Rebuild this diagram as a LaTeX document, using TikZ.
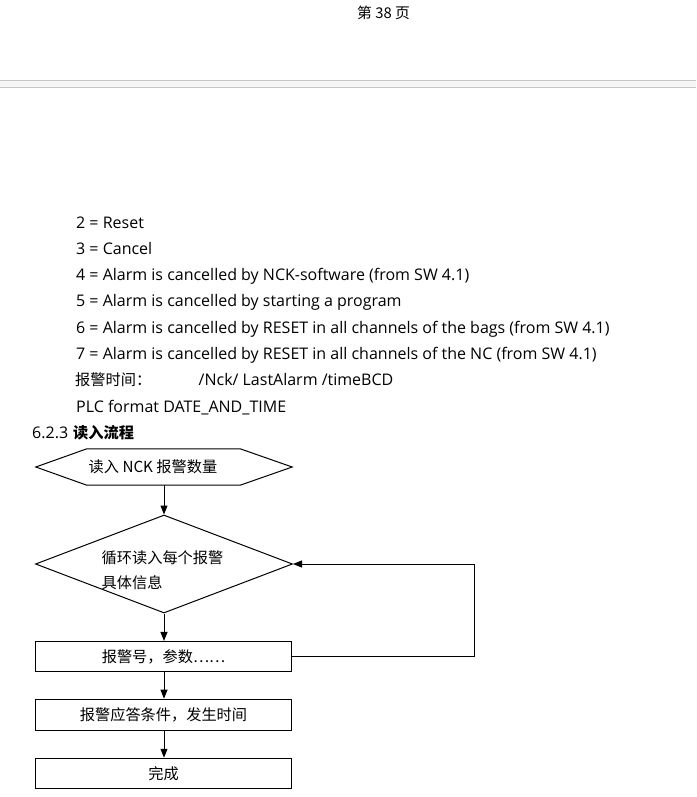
\documentclass[tikz,border=0pt]{standalone}
\usepackage{fontspec}
\setmainfont{Open Sans}
\newfontfamily\cjk{Noto Sans CJK SC}
\usetikzlibrary{shapes.geometric,arrows.meta}
\begin{document}
\begin{tikzpicture}[x=1pt,y=-1pt,
  txt/.style={anchor=base west,inner sep=0pt,font=\fontsize{16}{19}\selectfont},
  cjktxt/.style={txt,font=\cjk\fontsize{15.2}{18}\selectfont},
  flowbox/.style={draw,line width=1.1pt,minimum width=256pt,minimum height=30pt,inner sep=0pt,font=\cjk\fontsize{15.2}{18}\selectfont},
  flowarr/.style={-{Triangle[length=9pt,width=7pt]},line width=1pt}]
\useasboundingbox (0,0) rectangle (696,797);
\node[font=\cjk\fontsize{14.8}{17}\selectfont] (pagenum) at (383.5,13) {第 38 页};
\fill[gray!7] (0,80) rectangle (696,87);
\draw[gray!45] (0,80) -- (696,80);
\draw[gray!45] (0,87) -- (696,87);

\node[txt] (codea) at (76,228.3) {2 = Reset};
\node[txt] (codeb) at (76,254.5) {3 = Cancel};
\node[txt] (codec) at (76,280.7) {4 = Alarm is cancelled by NCK-software (from SW 4.1)};
\node[txt] (coded) at (76,306.9) {5 = Alarm is cancelled by starting a program};
\node[txt] (codee) at (76,333.1) {6 = Alarm is cancelled by RESET in all channels of the bags (from SW 4.1)};
\node[txt] (codef) at (76,359.3) {7 = Alarm is cancelled by RESET in all channels of the NC (from SW 4.1)};
\node[cjktxt] (timelbl) at (75,385.8) {报警时间：};
\node[txt] (timepath) at (198.5,385.8) {/Nck/ LastAlarm /timeBCD};
\node[txt] (plcfmt) at (76,412) {PLC format DATE\_AND\_TIME};
\node[txt] (secnum) at (32,438.5) {6.2.3};
\node[cjktxt,font=\cjk\bfseries\fontsize{15.2}{18}\selectfont] (sectitle) at (73,438.5) {读入流程};

% flow chart
\node[minimum width=256pt,minimum height=36pt,inner sep=0pt] (hexa) at (164,467) {};
\draw[line width=1pt] (hexa.west) -- ([xshift=51pt]hexa.north west) -- ([xshift=-52pt]hexa.north east)
  -- (hexa.east) -- ([xshift=-52pt]hexa.south east) -- ([xshift=51pt]hexa.south west) -- cycle;
\node[font=\cjk\fontsize{15.2}{18}\selectfont] (hexatxt) at (153,466.5) {读入 NCK 报警数量};

\node[diamond,draw,line width=1pt,minimum width=257pt,minimum height=98pt,inner sep=0pt] (loop) at (164,564) {};
\node[cjktxt] (loopa) at (101.5,563) {循环读入每个报警};
\node[cjktxt] (loopb) at (101.5,588) {具体信息};

\node[flowbox] (alarmno) at (163.5,656.5) {报警号，参数……};
\node[flowbox,minimum height=31pt] (ackcond) at (163.5,714.7) {报警应答条件，发生时间};
\node[flowbox] (done) at (163.5,773.3) {完成};

\draw[flowarr] (hexa.south -| loop.north) -- (loop.north);
\draw[flowarr] (loop.south) -- (loop.south |- alarmno.north);
\draw[flowarr] (loop.south |- alarmno.south) -- (loop.south |- ackcond.north);
\draw[flowarr] (loop.south |- ackcond.south) -- (loop.south |- done.north);
\draw[flowarr] (alarmno.east) -- ++(182.5,0) |- (loop.east);
\end{tikzpicture}
\end{document}
